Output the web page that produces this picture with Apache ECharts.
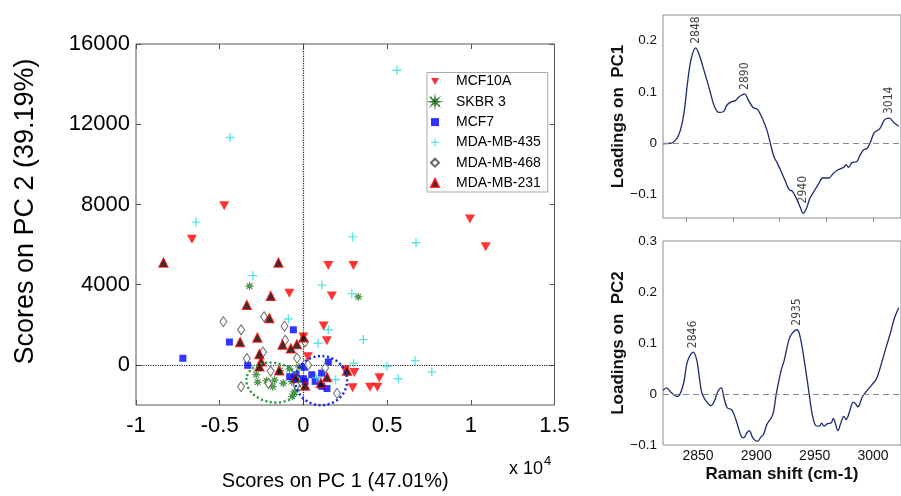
<!DOCTYPE html>
<html>
<head>
<meta charset="utf-8">
<script src="https://cdn.jsdelivr.net/npm/echarts@6/dist/echarts.min.js"></script>
<style>
html,body{margin:0;padding:0;background:#fff}
#chart{width:901px;height:496px}
</style>
</head>
<body>
<div id="chart"></div>
<script>
// ---- PCA scores: [PC1 score (x 10^4), PC2 score] ----
const mcf10a = [[-0.473,7940],[-0.666,6270],[0.995,7280],[1.089,5890],[0.149,4960],[0.299,4960],
  [-0.084,3570],[0.170,3440],[0.121,1940],[0.140,1200],[0.000,1390],[0.026,410],[0.249,-250],
  [0.304,-380],[0.294,-1140],[0.398,-1110],[0.442,-1110],[0.454,-640],[-0.045,-740]];
const skbr3 = [[-0.322,3930],[0.328,3390],[-0.282,-490],[-0.273,-860],[-0.220,-790],[-0.173,-760],
  [-0.183,-1090],[-0.084,-200],[-0.121,-910],[-0.070,-830],[-0.054,-1350],[-0.067,-1570],
  [-0.026,-100],[-0.139,-290]];
const mcf7 = [[-0.720,330],[-0.442,1140],[-0.060,1750],[-0.333,-20],[-0.082,-590],[-0.044,-490],
  [0.004,-120],[0.000,-690],[0.050,-490],[0.109,-410],[0.149,150],[0.070,-820],[0.110,-1070],
  [0.141,-1180],[0.010,-830]];
const mdaMb435 = [[-0.438,11340],[0.558,14690],[-0.641,7120],[0.295,6380],[0.673,6090],[-0.302,4450],
  [0.110,3980],[0.289,3550],[-0.090,2290],[0.149,1750],[0.088,1080],[0.358,1260],[0.300,80],
  [0.192,-740],[0.080,-640],[0.498,-80],[0.567,-690],[0.667,210],[0.767,-360]];
const mdaMb468 = [[-0.478,2160],[-0.235,2400],[-0.113,1930],[-0.372,1750],[-0.109,1230],[0.010,1140],
  [-0.241,640],[-0.338,320],[-0.038,340],[0.028,0],[-0.196,-310],[-0.372,-1080],[-0.209,-930],
  [-0.041,-1030],[0.130,-150],[0.201,-1420]];
const mdaMb231 = [[-0.836,5100],[-0.149,5100],[-0.195,3440],[-0.338,2990],[-0.203,2330],[-0.275,1360],
  [-0.378,1140],[-0.125,1010],[-0.039,1030],[-0.075,820],[0.000,1370],[-0.263,540],[-0.253,170],
  [-0.263,-80],[-0.145,-280],[-0.045,-640],[0.010,-1030],[0.104,-910],[0.141,-610],[0.261,-290]];

const groupNames = ['MCF10A', 'SKBR 3', 'MCF7', 'MDA-MB-435', 'MDA-MB-468', 'MDA-MB-231'];
const scoreYTicks = [0, 4000, 8000, 12000, 16000];

// cluster outlines: [centre PC1, centre PC2, half-width PC1, half-height PC2, tilt in degrees]
const clusterRings = [[-0.181, -883, 0.161, 982, 10], [0.106, -785, 0.155, 1227, 0]];

// ---- loading spectra ----
const pc1Shift = [2820,2827,2832,2835,2838,2841,2844,2848,2851,2855,2860,2864,2868,2872,2875,2879,2882,2885,
  2890,2893,2897,2901,2905,2909,2912,2915,2918,2922,2925,2928,2931,2935,2938,2940,2943,2946,2950,2953,2957,
  2962,2966,2970,2975,2977,2979,2982,2986,2989,2992,2995,2998,3001,3006,3010,3014,3018,3022];
const pc1Load = [-0.001,0.000,0.010,0.026,0.059,0.117,0.163,0.186,0.173,0.143,0.104,0.072,0.060,0.062,0.075,
  0.081,0.083,0.090,0.096,0.085,0.070,0.066,0.049,0.026,0.000,-0.026,-0.039,-0.059,-0.075,-0.090,-0.094,
  -0.111,-0.127,-0.137,-0.127,-0.107,-0.092,-0.081,-0.068,-0.068,-0.059,-0.052,-0.047,-0.042,-0.047,-0.038,
  -0.036,-0.023,-0.013,-0.010,0.003,0.020,0.029,0.046,0.049,0.040,0.033];
const pc2Shift = [2820,2823,2827,2832,2835,2838,2841,2846,2849,2851,2853,2855,2857,2861,2864,2867,2870,2872,
  2875,2879,2883,2887,2889,2892,2894,2897,2901,2904,2906,2909,2914,2917,2921,2924,2928,2931,2935,2938,2941,
  2945,2948,2951,2954,2956,2958,2961,2964,2966,2970,2972,2975,2977,2980,2983,2985,2987,2991,2995,2999,3003,
  3007,3011,3015,3018,3022];
const pc2Load = [0.007,0.012,0.003,-0.005,0.002,0.025,0.064,0.082,0.066,0.035,0.005,-0.007,-0.014,-0.023,
  -0.014,0.005,0.012,-0.005,-0.027,-0.031,-0.054,-0.083,-0.086,-0.076,-0.072,-0.086,-0.093,-0.084,-0.080,
  -0.060,-0.041,-0.001,0.044,0.067,0.107,0.120,0.126,0.107,0.067,0.005,-0.041,-0.062,-0.063,-0.057,-0.063,
  -0.058,-0.057,-0.048,-0.072,-0.060,-0.044,-0.050,-0.034,-0.016,-0.019,-0.025,-0.005,0.007,0.018,0.030,
  0.058,0.090,0.120,0.146,0.169];
const pc1Peaks = [2848, 2890, 2940, 3014];
const pc2Peaks = [2846, 2935];
const pc1LoadTicks = [-0.1, 0, 0.1, 0.2];
const pc2LoadTicks = [-0.1, 0, 0.1, 0.2, 0.3];
const pc1ShiftTicks = [2840, 2880, 2920, 2960, 3000];
const pc2ShiftTicks = [2850, 2900, 2950, 3000];

// ---------------------------------------------------------------
const FONT = "'Liberation Sans', Arial, Helvetica, sans-serif";
const NARROW = "'Liberation Sans Narrow', 'Arial Narrow', 'DejaVu Sans Condensed', sans-serif";
const zip = (xs, ys) => xs.map((x, i) => [x, ys[i]]);
const plain = v => String(v);
const minus = v => (v < 0 ? '\u2212' + String(Math.abs(v)) : String(v));
const peakPoints = (peaks, xs, ys) => peaks.map(p => {
  const i = xs.indexOf(p);
  return { value: [p, ys[i]], label: { distance: ys[i] < 0 ? 10 : 4 } };
});

const plusPath = 'path://M8.5,0h3v8.5h8.5v3h-8.5v8.5h-3v-8.5h-8.5v-3h8.5z';
const starShape = 'M20,10L12.77,11.15L17.07,17.07L11.15,12.77L10,20L8.85,12.77L2.93,17.07L7.23,11.15L0,10L7.23,8.85L2.93,2.93L8.85,7.23L10,0L11.15,7.23L17.07,2.93L12.77,8.85Z';
const starPath = 'path://' + starShape;
// same star inside a wider frame, so the legend swatch stays small
const starLegend = 'path://M-5,-5h0.01v0.01h-0.01Z M25,25h0.01v0.01h-0.01Z ' + starShape;
const downTriangle = 'path://M0,0L10,0L5,9Z';

const groupStyles = [
  { symbol: 'triangle', symbolRotate: 180, symbolSize: [10, 9], itemStyle: { color: '#ff0000' } },
  { symbol: starPath, symbolSize: 8, itemStyle: { color: '#2aa52a', borderColor: '#0c5e0c', borderWidth: 0.6 } },
  { symbol: 'rect', symbolSize: 7, itemStyle: { color: '#0000ff' } },
  { symbol: plusPath, symbolSize: 9, itemStyle: { color: '#33dde3' } },
  { symbol: 'diamond', symbolSize: [7, 10], itemStyle: { color: '#ffffff', borderColor: '#444', borderWidth: 1 } },
  { symbol: 'triangle', symbolSize: [9, 9], itemStyle: { color: '#000000', borderColor: '#ff0000', borderWidth: 1.2 } }
];
const legendIcons = [downTriangle, starLegend, null, null, null, null];
const groups = [mcf10a, skbr3, mcf7, mdaMb435, mdaMb468, mdaMb231];

const scoreSeries = groups.map((g, i) => Object.assign({
  name: groupNames[i], type: 'scatter', xAxisIndex: 0, yAxisIndex: 0, data: g, z: 3 + i
}, groupStyles[i]));

// dotted zero lines through the score plot
scoreSeries[0].markLine = {
  silent: true, symbol: 'none', label: { show: false },
  lineStyle: { color: '#222', type: 'dotted', width: 1.2 },
  data: [{ xAxis: 0 }, { yAxis: 0 }]
};

const ringColors = ['#1a9a3a', '#1020ee'];
const ringSeries = {
  type: 'custom', xAxisIndex: 0, yAxisIndex: 0, silent: true, z: 20,
  data: clusterRings,
  renderItem(params, api) {
    const c = api.coord([api.value(0), api.value(1)]);
    const s = api.size([api.value(2), api.value(3)]);
    const rot = api.value(4);
    const t = rot * Math.PI / 180;
    const dx = s[0] * Math.cos(t), dy = s[0] * Math.sin(t);
    const a = [c[0] - dx, c[1] - dy], b = [c[0] + dx, c[1] + dy];
    const d = `M${a[0]},${a[1]} A${s[0]},${s[1]} ${rot} 1 0 ${b[0]},${b[1]} A${s[0]},${s[1]} ${rot} 1 0 ${a[0]},${a[1]} Z`;
    return {
      type: 'path', shape: { pathData: d },
      style: { fill: 'none', stroke: ringColors[params.dataIndex], lineWidth: 2.4, lineDash: [2, 2.6] }
    };
  }
};

const loadingLine = (xs, ys, gi) => ({
  type: 'line', xAxisIndex: gi, yAxisIndex: gi, data: zip(xs, ys),
  showSymbol: false, smooth: 0.35, silent: true,
  lineStyle: { color: '#1c2a6e', width: 1.3 },
  markLine: {
    silent: true, symbol: 'none', label: { show: false },
    lineStyle: { color: '#8a8a8a', type: [6, 4], width: 1.2 },
    data: [{ yAxis: 0 }]
  }
});
const peakLabels = (peaks, xs, ys, gi) => ({
  type: 'scatter', xAxisIndex: gi, yAxisIndex: gi, symbolSize: 0, silent: true,
  data: peakPoints(peaks, xs, ys),
  label: {
    show: true, position: 'top', rotate: 90, align: 'left', verticalAlign: 'middle',
    formatter: p => String(p.value[0]), fontFamily: NARROW, fontSize: 12, color: '#111'
  }
});

const noLine = { show: false, onZero: false };
const rightX = { type: 'value', min: 2820, max: 3024, splitLine: { show: false }, axisLine: noLine };

const option = {
  backgroundColor: '#fff',
  animation: false,
  textStyle: { fontFamily: FONT },
  grid: [
    { left: 136, right: 346.5, top: 44, bottom: 85.25, show: true, borderColor: '#555', borderWidth: 1 },
    { left: 663, right: -2, top: 15, bottom: 278, show: true, borderColor: '#8c8c8c', borderWidth: 1 },
    { left: 663, right: -2, top: 241, bottom: 51, show: true, borderColor: '#8c8c8c', borderWidth: 1 }
  ],
  legend: {
    data: groupNames.map((n, i) => (legendIcons[i] ? { name: n, icon: legendIcons[i] } : { name: n })),
    orient: 'vertical', left: 427, top: 72.5,
    padding: [1, 7, 1, 3], itemWidth: 8, itemHeight: 8, itemGap: 4.3,
    borderColor: '#aaa', borderWidth: 1, backgroundColor: '#fff',
    textStyle: { fontFamily: FONT, fontSize: 14, lineHeight: 16, color: '#000', padding: [0, 0, 0, 12] }
  },
  xAxis: [
    { gridIndex: 0, type: 'value', min: -1, max: 1.5, interval: 0.5, position: 'bottom',
      axisLine: noLine, splitLine: { show: false },
      axisTick: { inside: true, length: 5, lineStyle: { color: '#555' } },
      axisLabel: { fontSize: 22, color: '#000', margin: 10, fontFamily: FONT, formatter: plain },
      name: 'Scores on PC 1 (47.01%)', nameLocation: 'middle', nameGap: 66,
      nameTextStyle: { fontSize: 20, color: '#000', fontFamily: FONT, padding: [0, 20, 0, 0] } },
    { gridIndex: 0, type: 'value', min: -1, max: 1.5, interval: 0.5, position: 'top',
      axisLine: noLine, splitLine: { show: false }, axisLabel: { show: false },
      axisTick: { inside: true, length: 5, lineStyle: { color: '#555' } } },
    Object.assign({ gridIndex: 1, position: 'bottom', axisLabel: { show: false },
      axisTick: { show: true, customValues: pc1ShiftTicks, length: 4, lineStyle: { color: '#8c8c8c' } } }, rightX),
    Object.assign({ gridIndex: 2, position: 'bottom', axisTick: { show: false },
      axisLabel: { customValues: pc2ShiftTicks, fontSize: 14, color: '#111', margin: 4, fontFamily: FONT, formatter: plain },
      name: 'Raman shift (cm-1)', nameLocation: 'middle', nameGap: 21,
      nameTextStyle: { fontSize: 17, fontWeight: 'bold', color: '#111', fontFamily: FONT } }, rightX)
  ],
  yAxis: [
    { gridIndex: 0, type: 'value', min: -2000, max: 16000, position: 'left',
      axisLine: noLine, splitLine: { show: false },
      axisTick: { inside: true, length: 5, customValues: scoreYTicks, lineStyle: { color: '#555' } },
      axisLabel: { customValues: scoreYTicks, fontSize: 22, color: '#000', margin: 6, fontFamily: FONT, formatter: plain },
      name: 'Scores on PC 2 (39.19%)', nameLocation: 'middle', nameGap: 97,
      nameTextStyle: { fontSize: 27, color: '#000', fontFamily: FONT, padding: [0, 0, 0, 26] } },
    { gridIndex: 0, type: 'value', min: -2000, max: 16000, position: 'right',
      axisLine: noLine, splitLine: { show: false }, axisLabel: { show: false },
      axisTick: { inside: true, length: 5, customValues: scoreYTicks, lineStyle: { color: '#555' } } },
    { gridIndex: 1, type: 'value', min: -0.146, max: 0.25, position: 'left',
      axisLine: noLine, splitLine: { show: false }, axisTick: { show: false },
      axisLabel: { customValues: pc1LoadTicks, formatter: minus, fontSize: 13.5, color: '#111', margin: 6, fontFamily: FONT },
      name: 'Loadings on  PC1', nameLocation: 'middle', nameGap: 36,
      nameTextStyle: { fontSize: 17, fontWeight: 'bold', color: '#111', fontFamily: FONT } },
    { gridIndex: 2, type: 'value', min: -0.1, max: 0.3, position: 'left',
      axisLine: noLine, splitLine: { show: false }, axisTick: { show: false },
      axisLabel: { customValues: pc2LoadTicks, formatter: minus, fontSize: 13.5, color: '#111', margin: 6, fontFamily: FONT },
      name: 'Loadings on  PC2', nameLocation: 'middle', nameGap: 36,
      nameTextStyle: { fontSize: 17, fontWeight: 'bold', color: '#111', fontFamily: FONT } }
  ],
  graphic: [
    { type: 'text', left: 509, top: 455,
      style: { text: '{a|x 10}{b|4}', fontFamily: FONT,
        rich: { a: { fontSize: 18, fill: '#000', padding: [8, 0, 0, 0] }, b: { fontSize: 13, fill: '#000', padding: [0, 0, 8, 1] } } } }
  ],
  series: scoreSeries.concat([
    ringSeries,
    loadingLine(pc1Shift, pc1Load, 2),
    peakLabels(pc1Peaks, pc1Shift, pc1Load, 2),
    loadingLine(pc2Shift, pc2Load, 3),
    peakLabels(pc2Peaks, pc2Shift, pc2Load, 3)
  ])
};

const chart = echarts.init(document.getElementById('chart'), null, { renderer: 'canvas' });
chart.setOption(option);
</script>
</body>
</html>
